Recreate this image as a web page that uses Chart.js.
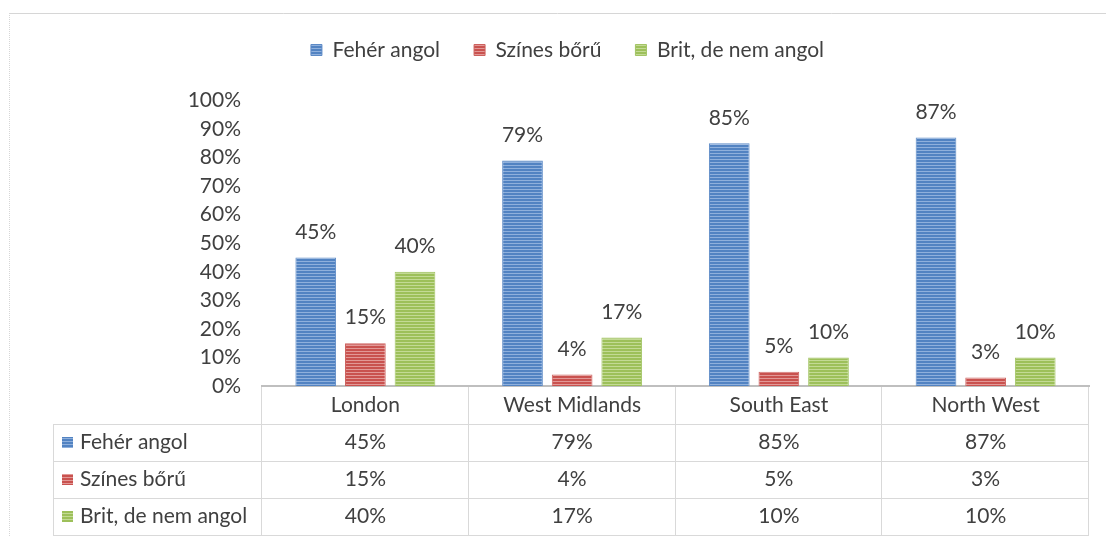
<!DOCTYPE html>
<html>
<head>
<meta charset="utf-8">
<script src="https://cdn.jsdelivr.net/npm/chart.js@4.4.0/dist/chart.umd.min.js"></script>
<style>
html,body{margin:0;padding:0;background:#ffffff;}
canvas{display:block;}
</style>
</head>
<body>
<canvas id="c" width="1106" height="537"></canvas>
<script>
// ---- data ----
const categories = ['London', 'West Midlands', 'South East', 'North West'];
const seriesNames = ['Fehér angol', 'Színes bőrű', 'Brit, de nem angol'];
const feherAngol = [45, 79, 85, 87];
const szinesBoru = [15, 4, 5, 3];
const britNemAngol = [40, 17, 10, 10];
const yTickValues = [0, 10, 20, 30, 40, 50, 60, 70, 80, 90, 100];
const yTickLabels = ['0%', '10%', '20%', '30%', '40%', '50%', '60%', '70%', '80%', '90%', '100%'];

// ---- styling ----
const FONT = 'Lato';
const TEXT = '#404040';
const canvas = document.getElementById('c');
const mainCtx = canvas.getContext('2d');

function stripes(base, light) {
  const c = document.createElement('canvas');
  c.width = 4; c.height = 3;
  const g = c.getContext('2d');
  g.fillStyle = base; g.fillRect(0, 0, 4, 3);
  g.fillStyle = light; g.fillRect(0, 0, 4, 1);
  return mainCtx.createPattern(c, 'repeat');
}
const palette = [
  { base: '#5283C2', light: '#8FB0DC', border: '#5C8AC6' },
  { base: '#C9524F', light: '#E29896', border: '#CC605D' },
  { base: '#9DC05A', light: '#C3DA95', border: '#A3C465' }
];
const seriesValues = [feherAngol, szinesBoru, britNemAngol];

const datasets = seriesNames.map((name, i) => ({
  label: name,
  data: seriesValues[i],
  backgroundColor: stripes(palette[i].base, palette[i].light),
  borderColor: palette[i].border,
  borderWidth: 1,
  categoryPercentage: 0.72,
  barPercentage: 0.82
}));

const legendSpacer = {
  id: 'legendSpacer',
  beforeInit(chart) {
    const origFit = chart.legend.fit;
    chart.legend.fit = function () {
      origFit.bind(chart.legend)();
      this.height += 30;
    };
  }
};

const frame = {
  id: 'frame',
  beforeDraw(chart) {
    const ctx = chart.ctx;
    ctx.save();
    ctx.strokeStyle = '#D6D6D6';
    ctx.lineWidth = 1;
    ctx.beginPath();
    ctx.moveTo(9, 13.5); ctx.lineTo(chart.width, 13.5);
    ctx.stroke();
    ctx.setLineDash([1, 1]);
    ctx.beginPath();
    ctx.moveTo(9.5, 13); ctx.lineTo(9.5, chart.height);
    ctx.stroke();
    ctx.restore();
  }
};

const valueLabels = {
  id: 'valueLabels',
  afterDatasetsDraw(chart) {
    const ctx = chart.ctx;
    ctx.save();
    ctx.font = '21px ' + FONT;
    ctx.fillStyle = TEXT;
    ctx.textAlign = 'center';
    ctx.textBaseline = 'middle';
    chart.data.datasets.forEach((ds, di) => {
      chart.getDatasetMeta(di).data.forEach((el, i) => {
        ctx.fillText(ds.data[i] + '%', el.x, el.y - 25.5);
      });
    });
    ctx.restore();
  }
};

const dataTable = {
  id: 'dataTable',
  afterDraw(chart) {
    const ctx = chart.ctx;
    const a = chart.chartArea;
    const xs = chart.scales.x;
    const n = categories.length;
    const cw = (a.right - a.left) / n;
    const top = a.bottom + 1;
    const headH = 37, rowH = 37;
    const leftEdge = 53;
    const bottom = top + headH + rowH * seriesNames.length;
    ctx.save();
    ctx.strokeStyle = '#D9D9D9';
    ctx.lineWidth = 1;
    for (let k = 0; k <= seriesNames.length; k++) {
      const y = Math.round(top + headH + k * rowH) + 0.5;
      ctx.beginPath(); ctx.moveTo(leftEdge, y); ctx.lineTo(a.right, y); ctx.stroke();
    }
    const bounds = categories.map((c, i) => xs.getPixelForValue(i) - cw / 2).concat([a.right]);
    bounds.forEach(b => {
      const xx = Math.round(b) - 0.5;
      ctx.beginPath(); ctx.moveTo(xx, top); ctx.lineTo(xx, bottom); ctx.stroke();
    });
    ctx.beginPath(); ctx.moveTo(leftEdge + 0.5, top + headH); ctx.lineTo(leftEdge + 0.5, bottom); ctx.stroke();

    ctx.font = '21px ' + FONT;
    ctx.fillStyle = TEXT;
    ctx.textBaseline = 'middle';
    ctx.textAlign = 'center';
    categories.forEach((c, i) => {
      const cx = xs.getPixelForValue(i);
      ctx.fillText(c, cx, top + headH / 2);
      seriesValues.forEach((vals, s) => {
        ctx.fillText(vals[i] + '%', cx, top + headH + rowH * s + rowH / 2);
      });
    });
    ctx.textAlign = 'left';
    seriesNames.forEach((name, s) => {
      const cy = top + headH + rowH * s + rowH / 2;
      ctx.fillStyle = chart.data.datasets[s].backgroundColor;
      ctx.fillRect(62, Math.round(cy - 5.5), 11, 11);
      ctx.fillStyle = TEXT;
      ctx.fillText(name, 80, cy);
    });
    ctx.restore();
  }
};

new Chart(canvas, {
  type: 'bar',
  data: { labels: categories, datasets: datasets },
  options: {
    responsive: false,
    animation: false,
    layout: { padding: { left: 46, right: 17, top: 5.5, bottom: 151 } },
    plugins: {
      legend: {
        position: 'top',
        labels: {
          font: { family: FONT, size: 21 },
          color: TEXT,
          boxWidth: 11,
          boxHeight: 11,
          padding: 34
        }
      },
      tooltip: { enabled: false }
    },
    scales: {
      x: {
        grid: { display: false, drawTicks: false },
        border: { display: true, color: '#BFBFBF', width: 2 },
        ticks: { display: false },
        afterFit(s) { s.height = 0; }
      },
      y: {
        min: 0,
        max: 100,
        grid: { display: false, drawTicks: false },
        border: { display: false },
        afterBuildTicks(s) { s.ticks = yTickValues.map(v => ({ value: v })); },
        ticks: {
          padding: 21,
          color: TEXT,
          font: { family: FONT, size: 21 },
          callback: (v) => yTickLabels[yTickValues.indexOf(v)]
        },
        afterFit(s) { s.width = 216; }
      }
    }
  },
  plugins: [legendSpacer, frame, valueLabels, dataTable]
});
</script>
</body>
</html>
